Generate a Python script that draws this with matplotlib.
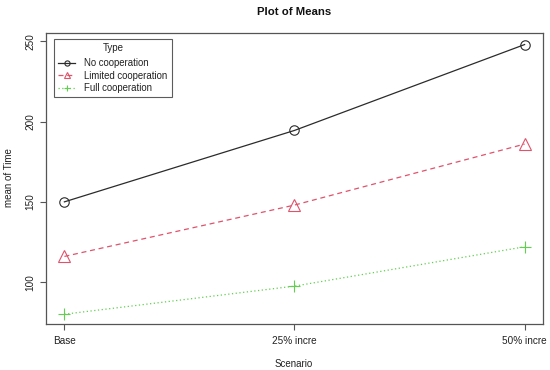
import matplotlib
matplotlib.use("Agg")
import matplotlib.pyplot as plt

scenarios = ["Base", "25% incre", "50% incre"]
no_coop = [150, 194.5, 248]
limited_coop = [116, 148, 186]
full_coop = [80, 97.5, 122]
series_names = ["No cooperation", "Limited cooperation", "Full cooperation"]

plt.rcParams['font.family'] = ['Liberation Sans', 'DejaVu Sans']
txt = "#222222"

fig = plt.figure(figsize=(5.5, 3.7), dpi=100)
ax = fig.add_axes([46/550, 1-324/370, (543-46)/550, (324-33)/370])

x = [1, 2, 3]
ax.plot(x, no_coop, color="#2b2b2b", lw=0.9, ls="-", marker="o", ms=6.8,
        mfc="none", mec="#2b2b2b", mew=0.8, label=series_names[0])
ax.plot(x, limited_coop, color="#DF536B", lw=0.9, ls=(0, (4, 3)), marker="^", ms=8.5,
        mfc="none", mec="#DF536B", mew=0.8, label=series_names[1])
ax.plot(x, full_coop, color="#61D04F", lw=0.9, ls=(0, (1, 2)), marker="+", ms=9,
        mec="#61D04F", mew=0.8, label=series_names[2])

ax.set_xlim(0.92, 3.08)
ax.set_ylim(73.9, 255.2)
ax.set_xticks(x)
ax.set_xticklabels(scenarios, fontsize=7.2, color=txt)
ax.set_yticks([100, 150, 200, 250])
ax.set_yticklabels(["100", "150", "200", "250"], fontsize=7.2, rotation=90, va="center", color=txt)
for s in ax.spines.values():
    s.set_color("#555555")
    s.set_linewidth(0.9)
ax.tick_params(axis="x", length=4.5, color="#555555", width=0.8, pad=4.2)
ax.tick_params(axis="y", length=4.5, color="#555555", width=0.8, pad=3.2)
fig.text(294/550, 1-364/370, "Scenario", ha="center", va="center", fontsize=7.0, color=txt)
fig.text(9/550, 1-178/370, "mean of Time", ha="center", va="center", fontsize=7.0,
         rotation=90, color=txt)
fig.text(294/550, 1-12/370, "Plot of Means", ha="center", va="center", fontsize=8.2,
         fontweight="bold", color="#111111")

leg = ax.legend(title="Type", loc="upper left", bbox_to_anchor=(8/497, 1-6/291), fontsize=6.9,
                title_fontsize=7.0, frameon=True, fancybox=False, markerscale=0.55,
                handlelength=1.75, handletextpad=0.95, borderpad=0.45, borderaxespad=0,
                labelspacing=0.25, edgecolor="#333333")
leg.get_frame().set_linewidth(0.8)
leg._legend_box.sep = 3.5
for t in leg.get_texts():
    t.set_color(txt)
leg.get_title().set_color(txt)

fig.savefig("out.png", dpi=100)
